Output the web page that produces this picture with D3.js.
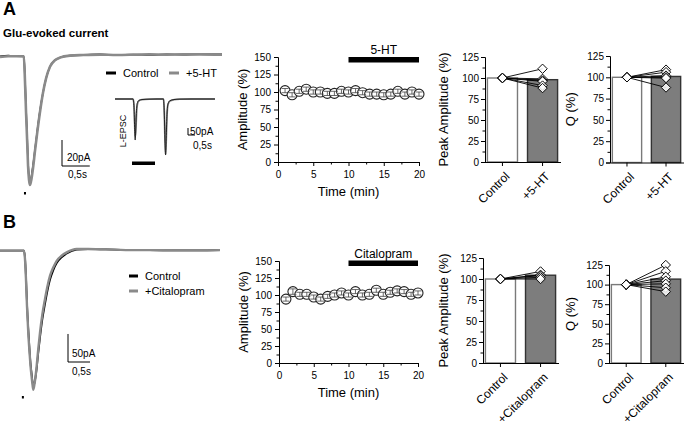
<!DOCTYPE html>
<html>
<head>
<meta charset="utf-8">
<script src="https://cdn.jsdelivr.net/npm/d3@7"></script>
<style>
body { margin: 0; background: #fff; }
svg { display: block; font-family: "Liberation Sans", Arial, sans-serif; }
</style>
</head>
<body>
<svg id="chart"></svg>
<script>
// ---- time course (amplitude %, one point per minute) ----
let minutes = [1, 2, 3, 4, 5, 6, 7, 8, 9, 10, 11, 12, 13, 14, 15, 16, 17, 18, 19, 20]
let ampA = [102, 96, 101, 104, 100, 100, 98, 98, 101, 100, 102, 99, 97, 97, 96, 97, 101, 97, 100, 97]
let errA = [3, 3, 3, 3, 3, 3, 3, 3, 3, 3, 3, 3, 3, 3, 3, 3, 3, 3, 3, 3]
let ampB = [94, 105, 101, 101, 97, 94, 98, 100, 103, 100, 105, 100, 101, 107, 101, 104, 106, 105, 101, 103]
let errB = [3, 4, 3, 3, 3, 3, 3, 3, 3, 3, 3, 3, 3, 3, 3, 3, 3, 3, 3, 3]
let timeTicks = [0, 5, 10, 15, 20]
let ampTicks = [0, 25, 50, 75, 100, 125, 150]
let pctTicks = [0, 25, 50, 75, 100, 125]

// ---- bar charts ----
let groupsA = ['Control', '+5-HT']
let groupsB = ['Control', '+Citalopram']
let peakBarA = [100, 98]
let peakCellsA = [111, 99, 97, 96, 91, 88]
let qBarA = [100, 101]
let qCellsA = [109, 106, 102, 100, 99, 88]
let peakBarB = [100, 104.5]
let peakCellsB = [109, 105, 104, 102, 100]
let qBarB = [100, 107]
let qCellsB = [125, 117, 110, 105, 101, 96, 91]

// ---- traces (time in s, current in pA) ----
let tA = [0, 0.15, 0.3, 0.43, 0.45, 0.47, 0.49, 0.505, 0.523, 0.54, 0.56, 0.595, 0.63, 0.667, 0.72, 0.775, 0.83, 0.9, 0.99, 1.08, 1.26, 1.5, 1.8, 2.1, 2.4, 2.7, 3.0, 3.3, 3.6, 4.0]
let ctrlA = [-1, -0.5, -1, -1, -18, -42, -64, -82, -94, -98, -95, -85, -73, -60, -43, -29, -18, -9, -4, -2, -0.5, 0, 0.5, 0, 0.3, 0, 0.5, 0.3, 0.6, 0.5]
let htA = [-1.5, -1, -1, -1.2, -20, -45, -67, -85, -96, -100, -97, -87, -74, -61, -44, -29, -18, -9, -4, -2, -0.5, 0, 0.3, 0, 0.2, 0.5, 0.3, 0.5, 0.5, 0.3]

let tInset = [0, 1.0, 1.286, 1.357, 1.407, 1.443, 1.486, 1.536, 1.607, 1.714, 1.929, 2.5, 3.0, 3.464, 3.52, 3.571, 3.614, 3.664, 3.714, 3.786, 3.929, 4.214, 4.64, 5.5, 7.14]
let ctrlInset = [0, 0, 0, -60, -220, -293, -200, -80, -25, -10, -4, -1, 0, 0, -100, -300, -400, -260, -110, -35, -12, -4, -1, 0, 0]
let htInset = [0, 0, 0, -40, -180, -270, -230, -110, -35, -12, -5, -1, 0, 0, -90, -290, -395, -280, -120, -40, -14, -5, -1, 0, 0]

let tB = [0, 0.2, 0.4, 0.545, 0.568, 0.59, 0.614, 0.643, 0.67, 0.693, 0.72, 0.74, 0.757, 0.784, 0.807, 0.834, 0.87, 0.909, 0.96, 1.023, 1.08, 1.136, 1.21, 1.289, 1.4, 1.516, 1.743, 2.0, 2.27, 2.6, 2.95, 3.4, 4.0, 4.5, 5.0]
let ctrlB = [0, 0, 0, 0, -13, -45, -95, -140, -175, -200, -220, -234, -240, -236, -226, -210, -182, -155, -124, -95, -71, -52, -35, -22, -12, -5, 2, 3, 2.5, 2, 1, 1, 0.5, 0.5, 1]
let citB = [0, 0, 0, 0, -15, -50, -100, -147, -180, -205, -226, -240, -248, -238, -225, -205, -175, -146, -115, -86, -63, -45, -30, -18, -9, -3, 3, 3, 2.5, 2, 1, 1, 0.5, 0.5, 1]

let width = 685
let height = 429
let grey = '#8a8a8a'

let svg = d3.select('#chart')
            .attr('width', width)
            .attr('height', height)

svg.append('rect').attr('width', width).attr('height', height).attr('fill', '#fff')

let label = (x, y, txt, size, opts = {}) => {
    let t = svg.append('text')
       .attr('x', x)
       .attr('y', y)
       .attr('font-size', size)
       .attr('font-weight', opts.bold ? 'bold' : null)
       .attr('text-anchor', opts.anchor || 'start')
       .text(txt)
    if (opts.rotate) t.attr('transform', 'rotate(' + opts.rotate + ',' + x + ',' + y + ')')
    return t
}

let minorOf = (ticks) => {
    let out = []
    for (let i = 0; i < ticks.length - 1; i++) out.push((ticks[i] + ticks[i + 1]) / 2)
    return out
}

let styleAxis = (g, size) => {
    g.attr('font-family', null).attr('font-size', size)
    g.selectAll('line').attr('stroke', '#000')
    g.select('.domain').attr('stroke', '#000')
}

// ---------- traces ----------
let drawTrace = (o) => {
    let x = d3.scaleLinear().domain(o.xDomain).range(o.xRange)
    let y = d3.scaleLinear().domain(o.yDomain).range(o.yRange)
    let line = (vals) => d3.line()
                           .x((d, i) => x(o.t[i]))
                           .y(d => y(d))
                           .curve(d3.curveMonotoneX)(vals)
    svg.append('path')
       .attr('d', line(o.first))
       .attr('fill', 'none')
       .attr('stroke', o.firstColor)
       .attr('stroke-width', o.firstWidth)
    svg.append('path')
       .attr('d', line(o.second))
       .attr('fill', 'none')
       .attr('stroke', o.secondColor)
       .attr('stroke-width', o.secondWidth)
    if (o.stim != null) {
        svg.append('rect')
           .attr('x', x(o.stim) - 1)
           .attr('y', o.stimY)
           .attr('width', 2)
           .attr('height', 2.5)
           .attr('fill', '#000')
    }
    // scale bar
    let sx = o.bar[0], sy = o.bar[1]
    let vLen = Math.abs(y(0) - y(-o.barPA))
    let hLen = x(o.xDomain[0] + 0.5) - x(o.xDomain[0])
    svg.append('path')
       .attr('d', 'M' + sx + ',' + (sy - vLen) + 'V' + sy + 'H' + (sx + hLen))
       .attr('fill', 'none')
       .attr('stroke', '#000')
       .attr('stroke-width', 1)
    label(sx + o.barTxt[0], sy + o.barTxt[1], o.barPA + 'pA', 10)
    label(sx + o.barTxt[2], sy + o.barTxt[3], '0,5s', 10)
}

drawTrace({t: tA, first: ctrlA, second: htA, firstColor: '#000', firstWidth: 1.6, secondColor: grey, secondWidth: 2.6,
           xDomain: [0, 4], xRange: [0, 222], yDomain: [-100, 0], yRange: [185, 55],
           stim: 0.45, stimY: 192, bar: [62, 166], barPA: 20, barTxt: [5, -5, 6, 12]})

drawTrace({t: tInset, first: htInset, second: ctrlInset, firstColor: grey, firstWidth: 1.8, secondColor: '#222', secondWidth: 1,
           xDomain: [0, 100 / 14], xRange: [115, 215], yDomain: [-400, 0], yRange: [155, 99],
           stim: null, bar: [188, 135], barPA: 50, barTxt: [2, 0, 5, 14]})

drawTrace({t: tB, first: ctrlB, second: citB, firstColor: '#000', firstWidth: 1.8, secondColor: grey, secondWidth: 2.4,
           xDomain: [0, 5], xRange: [0, 220], yDomain: [-245, 0], yRange: [388, 250.7],
           stim: 0.52, stimY: 396, bar: [68, 362], barPA: 50, barTxt: [4, -5, 4, 13]})

// inset extras
svg.append('rect').attr('x', 132).attr('y', 161.5).attr('width', 23).attr('height', 3.5).attr('fill', '#000')
label(126, 131, 'L-EPSC', 9, {anchor: 'middle', rotate: -90})

// panel labels and legends
label(3, 15, 'A', 18, {bold: true})
label(3, 37, 'Glu-evoked current', 11.5, {bold: true})
label(3, 228, 'B', 18, {bold: true})

let legendItem = (x1, x2, y, color, txt) => {
    svg.append('line').attr('x1', x1).attr('x2', x2).attr('y1', y).attr('y2', y)
       .attr('stroke', color).attr('stroke-width', 3)
    label(x2 + 7, y + 4, txt, 11)
}
legendItem(106, 116, 73, '#000', 'Control')
legendItem(169, 179, 73, grey, '+5-HT')
legendItem(129, 138, 276, '#000', 'Control')
legendItem(129, 138, 291, grey, '+Citalopram')

// ---------- time course ----------
let drawTimeCourse = (o) => {
    let x = d3.scaleLinear().domain([0, 20]).range([o.x0, o.x1])
    let y = d3.scaleLinear().domain([0, 150]).range([o.y0, o.y1])

    let gx = svg.append('g').attr('transform', 'translate(0,' + o.y0 + ')')
    gx.call(d3.axisBottom(x).tickValues(minorOf(timeTicks)).tickSize(2.5).tickSizeOuter(0).tickFormat(''))
    gx.append('g').call(d3.axisBottom(x).tickValues(timeTicks).tickSize(4).tickSizeOuter(0).tickPadding(5))
    styleAxis(gx, 12)

    let gy = svg.append('g').attr('transform', 'translate(' + o.x0 + ',0)')
    gy.call(d3.axisLeft(y).tickValues(minorOf(ampTicks)).tickSize(2.5).tickSizeOuter(0).tickFormat(''))
    gy.append('g').call(d3.axisLeft(y).tickValues(ampTicks).tickSize(4).tickSizeOuter(0).tickPadding(3))
    styleAxis(gy, 12)

    label(o.x0 - 31, (o.y0 + o.y1) / 2, 'Amplitude (%)', 13, {anchor: 'middle', rotate: -90})
    label((o.x0 + o.x1) / 2, o.y0 + 34, 'Time (min)', 13, {anchor: 'middle'})

    // drug application bar
    svg.append('rect')
       .attr('x', x(10))
       .attr('y', o.barY)
       .attr('width', x(20) - x(10))
       .attr('height', 5.5)
       .attr('fill', '#000')
    label(x(15), o.barY - 3, o.drug, 12, {anchor: 'middle'})

    let pts = svg.append('g')
    pts.selectAll('circle')
       .data(minutes)
       .enter()
       .append('circle')
       .attr('cx', d => x(d))
       .attr('cy', (d, i) => y(o.vals[i]))
       .attr('r', 5)
       .attr('fill', '#fff')
       .attr('stroke', '#222')
       .attr('stroke-width', 1.1)
    minutes.forEach((m, i) => {
        let cx = x(m), lo = y(o.vals[i] - o.err[i]), hi = y(o.vals[i] + o.err[i])
        pts.append('path')
           .attr('d', 'M' + cx + ',' + lo + 'V' + hi + 'M' + (cx - 3.5) + ',' + lo + 'H' + (cx + 3.5) + 'M' + (cx - 3.5) + ',' + hi + 'H' + (cx + 3.5))
           .attr('stroke', '#444')
           .attr('stroke-width', 0.8)
           .attr('fill', 'none')
    })
}

drawTimeCourse({x0: 278, x1: 419, y0: 162, y1: 57, vals: ampA, err: errA, drug: '5-HT', barY: 57})
drawTimeCourse({x0: 279, x1: 418, y0: 363, y1: 261, vals: ampB, err: errB, drug: 'Citalopram', barY: 260.5})

// ---------- bar charts ----------
let drawBars = (o) => {
    let x = d3.scaleBand().domain(o.groups).range([o.x0, o.x1]).paddingInner(0.25).paddingOuter(0.06)
    let y = d3.scaleLinear().domain([0, 125]).range([o.y0, o.y1])

    svg.selectAll(null)
       .data(o.bars)
       .enter()
       .append('rect')
       .attr('x', (d, i) => x(o.groups[i]))
       .attr('y', d => y(d))
       .attr('width', x.bandwidth())
       .attr('height', d => o.y0 - y(d))
       .attr('fill', (d, i) => i === 0 ? '#fff' : '#7d7d7d')
       .attr('stroke', (d, i) => i === 0 ? '#7a7a7a' : '#333')
       .attr('stroke-width', 1.4)

    let c0 = x(o.groups[0]) + x.bandwidth() / 2
    let c1 = x(o.groups[1]) + x.bandwidth() / 2

    let gx = svg.append('g').attr('transform', 'translate(0,' + o.y0 + ')')
    gx.call(d3.axisBottom(x).tickSize(4).tickSizeOuter(0).tickFormat(''))
    styleAxis(gx, 12)
    gx.select('.domain').attr('d', 'M' + (o.x0 - 4) + ',0.5H' + (o.x1 + 1))

    let gy = svg.append('g').attr('transform', 'translate(' + o.x0 + ',0)')
    gy.call(d3.axisLeft(y).tickValues(minorOf(pctTicks)).tickSize(2.5).tickSizeOuter(0).tickFormat(''))
    gy.append('g').call(d3.axisLeft(y).tickValues(pctTicks).tickSize(4).tickSizeOuter(0).tickPadding(2))
    styleAxis(gy, 12)

    o.groups.forEach((g, i) => {
        let cx = i === 0 ? c0 : c1
        label(cx + 8, o.y0 + 15, g, 12, {anchor: 'end', rotate: -45})
    })

    label(o.titleX, (o.y0 + o.y1) / 2, o.title, 13, {anchor: 'middle', rotate: -90})

    svg.selectAll(null)
       .data(o.cells)
       .enter()
       .append('line')
       .attr('x1', c0)
       .attr('y1', y(100))
       .attr('x2', c1)
       .attr('y2', d => y(d))
       .attr('stroke', '#000')
       .attr('stroke-width', 0.9)

    let diamond = d3.symbol().type(d3.symbolSquare).size(44)
    let marks = o.cells.map(v => [c1, v]).concat(o.cells.map(() => [c0, 100]))
    svg.selectAll(null)
       .data(marks)
       .enter()
       .append('path')
       .attr('d', diamond)
       .attr('transform', d => 'translate(' + d[0] + ',' + y(d[1]) + ') rotate(45)')
       .attr('fill', '#fff')
       .attr('fill-opacity', 0.85)
       .attr('stroke', '#000')
       .attr('stroke-width', 0.9)
}

drawBars({groups: groupsA, bars: peakBarA, cells: peakCellsA, x0: 485, x1: 560, y0: 162, y1: 57, title: 'Peak Amplitude (%)', titleX: 448})
drawBars({groups: groupsA, bars: qBarA, cells: qCellsA, x0: 610, x1: 683, y0: 162.5, y1: 56, title: 'Q (%)', titleX: 575})
drawBars({groups: groupsB, bars: peakBarB, cells: peakCellsB, x0: 483, x1: 558, y0: 363, y1: 258, title: 'Peak Amplitude (%)', titleX: 448})
drawBars({groups: groupsB, bars: qBarB, cells: qCellsB, x0: 609, x1: 683, y0: 363, y1: 265, title: 'Q (%)', titleX: 575})
</script>
</body>
</html>
